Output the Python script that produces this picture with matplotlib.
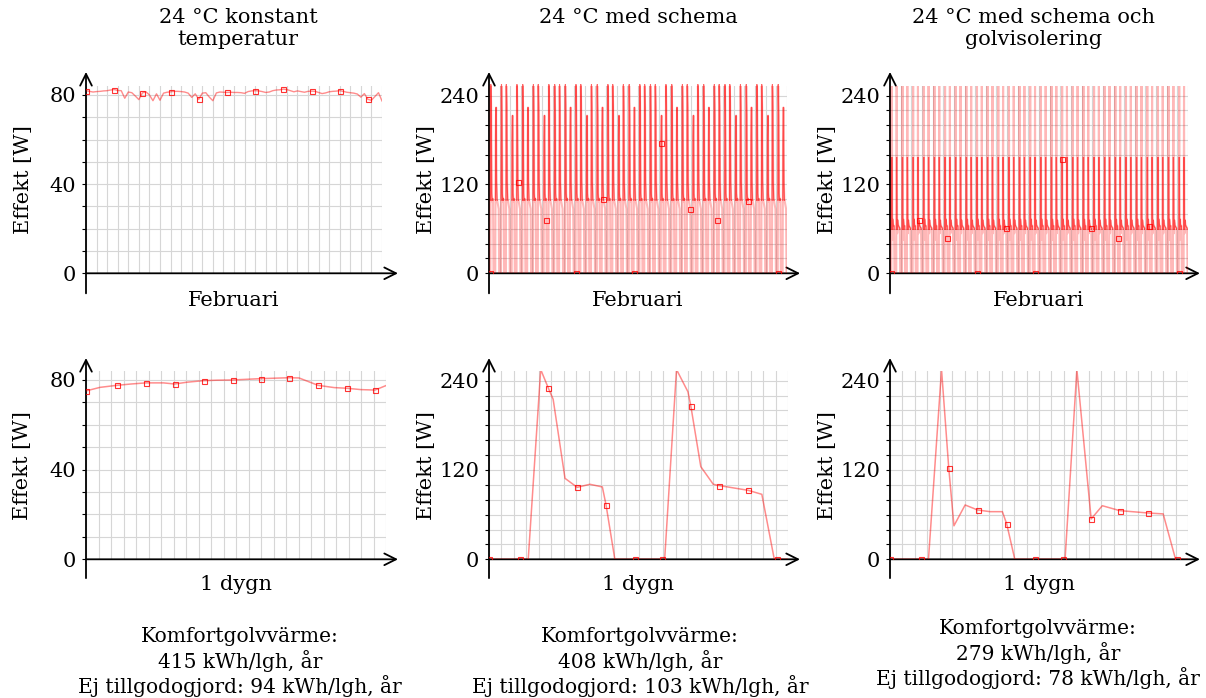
import numpy as np
import matplotlib
matplotlib.use("Agg")
import matplotlib.pyplot as plt
from matplotlib.patches import Rectangle

plt.rcParams['font.family'] = ['DejaVu Serif', 'DejaVu Sans']

# --- TEXT ---
TITLES = ["24 °C konstant\ntemperatur", "24 °C med schema", "24 °C med schema och\ngolvisolering"]
SUMMARIES = [
    "Komfortgolvvärme:\n415 kWh/lgh, år\nEj tillgodogjord: 94 kWh/lgh, år",
    "Komfortgolvvärme:\n408 kWh/lgh, år\nEj tillgodogjord: 103 kWh/lgh, år",
    "Komfortgolvvärme:\n279 kWh/lgh, år\nEj tillgodogjord: 78 kWh/lgh, år",
]

# --- FEBRUARI, konstant temperatur (one value every 8 h) ---
FEB_KONST_STEP_H = 8
FEB_KONST_W = [
    81.9, 81.6, 81.3, 81.5, 81.6, 81.8, 81.9, 82.2, 82.4, 82.0,
    81.9, 78.5, 81.3, 81.0, 79.5, 77.9, 80.9, 81.4, 80.0, 77.4,
    80.5, 77.6, 80.8, 81.2, 81.4, 81.6, 81.6, 81.5, 81.3, 80.8,
    78.9, 80.5, 78.0, 80.8, 81.0, 79.0, 77.4, 80.9, 81.3, 81.2,
    81.1, 81.2, 81.1, 81.1, 81.0, 80.7, 81.5, 81.8, 81.9, 81.8,
    81.5, 81.1, 81.3, 81.9, 82.2, 82.3, 82.6, 82.4, 81.9, 81.4,
    81.8, 81.5, 81.2, 81.6, 81.7, 81.6, 81.1, 80.6, 80.9, 81.4,
    81.6, 81.7, 81.9, 81.6, 81.2, 81.0, 80.8, 80.4, 79.0, 80.6,
    78.0, 77.6, 79.3, 81.0, 77.3,
]
FEB_KONST_MARK_EVERY = 8

# --- FEBRUARI, med schema: daily vertices + peak of each day ---
SCHEMA_DAY_H = [0, 3.15, 4.15, 5.15, 6.1, 7.08, 8.1, 9.1, 9.4, 10.1, 14.1,
                15.05, 16.0, 17.0, 18.0, 21.9, 22.9]
SCHEMA_DAY_W = [0, 0, 253, 213, 108, 97, 101, 97, 72, 0, 0,
                253, 224, 124, 100, 87, 0]
SCHEMA_AM_SLOT, SCHEMA_PM_SLOT = 2, 11
SCHEMA_AM_PEAK = [255, 255, 178, 255, 255, 184, 255, 255, 255, 172, 255, 255, 180, 255,
                  255, 255, 176, 255, 255, 186, 255, 255, 255, 174, 255, 255, 182, 255]
SCHEMA_PM_PEAK = [185, 255, 255, 176, 255, 255, 255, 180, 255, 255, 188, 255, 255, 175,
                  255, 255, 255, 182, 255, 255, 178, 255, 255, 255, 184, 255, 255, 176]
SCHEMA_MARKS = [(0, 1), (2, 13), (5, 8), (8, 1), (10, 14), (13, 10), (16, 2),
                (18, 15), (21, 8), (24, 7), (27, 1)]
SCHEMA_DARK_BAND = (98, 256)

# --- FEBRUARI, med schema och golvisolering ---
ISO_DAY_H = [0, 3.1, 4.15, 4.73, 5.15, 6.05, 7.05, 8.05, 9.05, 9.4, 10.05, 14.1,
             15.05, 15.4, 16.2, 17.1, 18.5, 20.8, 22.0, 23.0]
ISO_DAY_W = [0, 0, 253, 155, 45, 73, 66, 64, 64, 47.5, 0, 0,
             253, 150, 54, 72, 65, 62, 61, 0]
ISO_AM_SLOT, ISO_PM_SLOT = 3, 13
ISO_AM_POST = [155, 152, 158, 125, 156, 150, 154, 157, 130, 153, 155, 151, 158, 150,
               156, 126, 154, 152, 157, 155, 150, 128, 156, 153, 158, 152, 155, 151]
ISO_PM_POST = [150, 156, 128, 154, 152, 157, 150, 155, 153, 127, 156, 152, 150, 158,
               154, 151, 156, 130, 153, 155, 157, 150, 152, 126, 154, 156, 150, 158]
ISO_MARKS = [(0, 1), (2, 15), (5, 9), (8, 1), (10, 18), (13, 11), (16, 3),
             (18, 18), (21, 9), (24, 8), (27, 1)]
ISO_DARK_BAND = (58, 157)

# --- 1 dygn ---
DYGN_KONST_H = [0, 1.12, 2.46, 3.6, 4.79, 6.2, 7.09, 8.08, 9.42, 10.5, 11.72,
                13.99, 16.27, 17.04, 18.57, 19.85, 20.87, 21.99, 23.12, 24]
DYGN_KONST_W = [75.1, 76.7, 77.6, 78.2, 78.7, 78.7, 78.2, 79.0, 79.7, 79.9, 80.0,
                80.6, 81.0, 80.9, 77.6, 76.6, 76.3, 75.7, 75.5, 77.5]
DYGN_KONST_MARKS = [0, 2, 4, 6, 8, 10, 11, 12, 14, 16, 18]

DYGN_SCHEMA_H = [0, 2.47, 3.15, 4.15, 4.77, 5.15, 6.1, 7.08, 8.1, 9.1, 9.4, 10.1,
                 11.7, 13.9, 14.1, 15.05, 15.97, 16.2, 17.0, 18.0, 18.5, 20.8,
                 21.9, 22.9, 23.1, 24]
DYGN_SCHEMA_W = [0, 0, 0, 255, 229.7, 215, 108.8, 96.7, 100.8, 97.2, 72.5, 0,
                 0, 0, 0, 255, 225, 206, 124.5, 100.8, 99, 92.7, 87.3, 0, 0, 0]
DYGN_SCHEMA_MARKS = [0, 1, 4, 7, 10, 12, 13, 17, 20, 21, 24]

DYGN_ISO_H = [0, 2.47, 3.1, 4.15, 4.73, 5.15, 6.05, 7.05, 8.05, 9.05, 9.4, 10.05,
              11.7, 13.9, 14.1, 15.05, 16.2, 17.1, 18.5, 20.8, 22.0, 23.0, 23.1, 24]
DYGN_ISO_W = [0, 0, 0, 255, 123, 45, 73, 66.3, 64, 64, 47.5, 0,
              0, 0, 0, 255, 54.2, 72, 65.4, 62.2, 61, 0, 0, 0]
DYGN_ISO_MARKS = [0, 1, 4, 7, 10, 12, 13, 16, 18, 19, 22]

N_DAYS = 28
FIG_W, FIG_H = 1206, 698
LINE_C = (1.0, 0.0, 0.0, 0.45)
MARK_C = (1.0, 0.0, 0.0, 0.8)


def month_series(day_h, day_w, slots, per_day):
    days, vals = [], []
    for d in range(N_DAYS):
        w = list(day_w)
        for slot, arr in zip(slots, per_day):
            w[slot] = arr[d]
        days += [d + h / 24 for h in day_h]
        vals += w
    days.append(N_DAYS)
    vals.append(day_w[0])
    return days, vals


def rect(l, t, r, b):
    return [l / FIG_W, 1 - b / FIG_H, (r - l) / FIG_W, (b - t) / FIG_H]


def setup(ax, xmax, ymax, ystep, yticks, xlabel, xarrow, ytop, ybot, xlab_y):
    ax.set_xlim(0, xmax)
    ax.set_ylim(0, ymax)
    for s in ax.spines.values():
        s.set_visible(False)
    ax.set_xticks(np.arange(0, xmax + 1, 1))
    ax.tick_params(axis='x', length=0, labelbottom=False)
    ax.set_yticks(yticks)
    ax.set_yticks(np.arange(0, ymax, ystep), minor=True)
    ax.tick_params(axis='y', which='major', length=3, width=0.8, labelsize=15, pad=4)
    ax.tick_params(axis='y', which='minor', length=3, width=0.8)
    ax.grid(True, which='both', color='#d6d6d6', lw=0.8)
    ax.set_axisbelow(True)
    arrow = dict(arrowstyle='->,head_length=0.7,head_width=0.35', lw=1.3,
                 color='black', shrinkA=0, shrinkB=0, mutation_scale=12)
    ax.annotate('', xy=(xarrow, 0), xytext=(0, 0), xycoords='axes fraction',
                arrowprops=arrow, annotation_clip=False)
    ax.annotate('', xy=(0, ytop), xytext=(0, ybot), xycoords='axes fraction',
                arrowprops=arrow, annotation_clip=False)
    ax.text(0.5, xlab_y, xlabel, transform=ax.transAxes, ha='center', va='center',
            fontsize=15)
    ax.text(-0.21, 0.5, 'Effekt [W]', transform=ax.transAxes, ha='center',
            va='center', rotation=90, fontsize=15)


def marks(ax, x, y, idx):
    ax.plot(x, y, ls='none', marker='s', markevery=idx, markersize=3.6,
            markerfacecolor='none', markeredgecolor=MARK_C, markeredgewidth=0.8,
            zorder=4)


def draw(ax, x, y, idx, lw=1.1):
    ax.plot(x, y, color=LINE_C, lw=lw, zorder=3)
    marks(ax, x, y, idx)


def draw_dense(ax, x, y, idx, band):
    # light wide stroke everywhere, darker thin stroke where the curve crowds
    ax.plot(x, y, color=(1, 0, 0, 0.28), lw=1.5, zorder=3)
    dark, = ax.plot(x, y, color=(1, 0, 0, 0.6), lw=0.8, zorder=3)
    dark.set_clip_path(Rectangle((0, band[0]), N_DAYS, band[1] - band[0],
                                 transform=ax.transData))
    marks(ax, x, y, idx)


fig = plt.figure(figsize=(FIG_W / 100, FIG_H / 100), dpi=100)

ax_tl = fig.add_axes(rect(86, 86, 382, 273.3))
ax_tm = fig.add_axes(rect(489, 86, 787, 273.3))
ax_tr = fig.add_axes(rect(890, 86, 1188, 273.3))
ax_bl = fig.add_axes(rect(86, 371, 386, 559.3))
ax_bm = fig.add_axes(rect(489, 371, 788, 559.3))
ax_br = fig.add_axes(rect(890, 371, 1188, 559.3))

setup(ax_tl, 28, 84, 10, [0, 40, 80], 'Februari', 1.054, 1.075, -0.107, -0.143)
setup(ax_tm, 28, 253, 20, [0, 120, 240], 'Februari', 1.044, 1.075, -0.107, -0.143)
setup(ax_tr, 28, 253, 20, [0, 120, 240], 'Februari', 1.04, 1.075, -0.107, -0.143)
setup(ax_bl, 24, 84, 10, [0, 40, 80], '1 dygn', 1.04, 1.069, -0.10, -0.136)
setup(ax_bm, 24, 253, 20, [0, 120, 240], '1 dygn', 1.04, 1.069, -0.10, -0.136)
setup(ax_br, 24, 253, 20, [0, 120, 240], '1 dygn', 1.04, 1.069, -0.10, -0.136)

# top row
feb_days = [i * FEB_KONST_STEP_H / 24 for i in range(len(FEB_KONST_W))]
draw(ax_tl, feb_days, FEB_KONST_W, FEB_KONST_MARK_EVERY, lw=1.0)

d_s, w_s = month_series(SCHEMA_DAY_H, SCHEMA_DAY_W, (SCHEMA_AM_SLOT, SCHEMA_PM_SLOT),
                        (SCHEMA_AM_PEAK, SCHEMA_PM_PEAK))
draw_dense(ax_tm, d_s, w_s, [d * len(SCHEMA_DAY_H) + k for d, k in SCHEMA_MARKS],
           SCHEMA_DARK_BAND)

d_i, w_i = month_series(ISO_DAY_H, ISO_DAY_W, (ISO_AM_SLOT, ISO_PM_SLOT),
                        (ISO_AM_POST, ISO_PM_POST))
draw_dense(ax_tr, d_i, w_i, [d * len(ISO_DAY_H) + k for d, k in ISO_MARKS],
           ISO_DARK_BAND)

# bottom row
draw(ax_bl, DYGN_KONST_H, DYGN_KONST_W, DYGN_KONST_MARKS)
draw(ax_bm, DYGN_SCHEMA_H, DYGN_SCHEMA_W, DYGN_SCHEMA_MARKS)
draw(ax_br, DYGN_ISO_H, DYGN_ISO_W, DYGN_ISO_MARKS)

# titles and summaries
for x, title in zip([238, 638, 1034], TITLES):
    fig.text(x / FIG_W, 1 - 8 / FIG_H, title, ha='center', va='top', fontsize=15,
             linespacing=1.2)
for x, y, txt in zip([240, 640, 1038], [627, 627, 619], SUMMARIES):
    fig.text(x / FIG_W, 1 - y / FIG_H, txt, ha='center', va='top', fontsize=14.5,
             linespacing=1.2)

fig.savefig('out.png', dpi=100)
